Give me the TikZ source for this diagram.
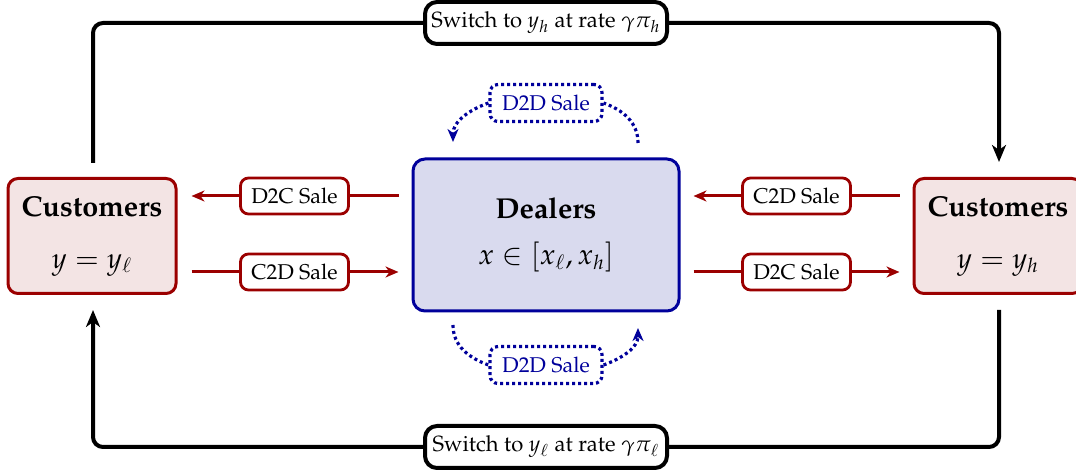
\documentclass[tikz,border=0pt]{standalone}
\usepackage[T1]{fontenc}
\usepackage{mathpazo}
\usetikzlibrary{arrows.meta}
\definecolor{dred}{RGB}{155,0,0}
\definecolor{dblue}{RGB}{0,0,155}
\definecolor{pinkfill}{RGB}{243,228,228}
\definecolor{bluefill}{RGB}{217,218,238}
\begin{document}
\begin{tikzpicture}[x=0.5pt,y=0.5pt,
  custbox/.style={draw=dred, fill=pinkfill, line width=1.5pt, rounded corners=5pt,
    minimum width=84pt, minimum height=57.5pt, align=center, inner sep=0pt,
    font=\fontsize{14.4}{17}\selectfont},
  dealbox/.style={draw=dblue, fill=bluefill, line width=1.5pt, rounded corners=6pt,
    minimum width=133pt, minimum height=76pt, align=center, inner sep=0pt,
    font=\fontsize{14.4}{17}\selectfont},
  salelbl/.style={draw=dred, fill=white, line width=1.4pt, rounded corners=4pt,
    minimum width=54pt, minimum height=18pt, inner sep=1pt,
    font=\fontsize{10.7}{12}\selectfont},
  redarrow/.style={draw=dred, line width=1.5pt, -{Stealth[length=6.5pt,width=5.5pt,inset=2pt]}},
  looparrow/.style={draw=black, line width=2pt, rounded corners=5pt,
    -{Stealth[length=8.5pt,width=7pt,inset=2.5pt]}},
  switchlbl/.style={draw=black, fill=white, line width=2pt, rounded corners=6pt,
    minimum width=121pt, minimum height=21pt, inner sep=1pt,
    font=\fontsize{11}{13}\selectfont},
  dotline/.style={draw=dblue, line width=1.6pt, dash pattern=on 1.5pt off 1.5pt},
  dottip/.style={-{Stealth[length=6.5pt,width=5.5pt,inset=2pt]}},
  d2dlbl/.style={draw=dblue, fill=white, line width=1.6pt, dash pattern=on 1.5pt off 1.5pt,
    rounded corners=4pt, minimum width=56pt, minimum height=18.5pt, inner sep=1pt,
    text=dblue, font=\fontsize{10.7}{12}\selectfont},
]
\useasboundingbox (0,0) rectangle (1076,471);

\node[custbox] (custL) at (92,235) {\textbf{Customers}\\[9pt]$y=y_\ell$};
\node[custbox] (custR) at (998,235) {\textbf{Customers}\\[9pt]$y=y_h$};
\node[dealbox] (dealers) at (546,236) {\textbf{Dealers}\\[6pt]$x\in[x_\ell,x_h]$};

\coordinate (rowA) at (0,275);
\coordinate (rowB) at (0,199);
\coordinate (topline) at (0,448);
\coordinate (botline) at (0,24);

% left side
\draw[redarrow, shorten <=6.5pt, shorten >=7pt] (dealers.west |- rowA) -- (custL.east |- rowA)
  node[salelbl, midway] {D2C Sale};
\draw[redarrow, shorten <=7pt, shorten >=6.5pt] (custL.east |- rowB) -- (dealers.west |- rowB)
  node[salelbl, midway] {C2D Sale};
% right side
\draw[redarrow, shorten <=6.5pt, shorten >=6.5pt] (custR.west |- rowA) -- (dealers.east |- rowA)
  node[salelbl, midway] {C2D Sale};
\draw[redarrow, shorten <=6.5pt, shorten >=6.5pt] (dealers.east |- rowB) -- (custR.west |- rowB)
  node[salelbl, midway] {D2C Sale};

% loops
\draw[looparrow, shorten <=7pt, shorten >=7.5pt]
  ([xshift=0.5pt]custL.north) -- ([xshift=0.5pt]custL.north |- topline)
  -- node[switchlbl] {Switch to $y_h$ at rate $\gamma\pi_h$} ([xshift=0.5pt]custR.north |- topline)
  -- ([xshift=0.5pt]custR.north);
\draw[looparrow, shorten <=7.5pt, shorten >=7.5pt]
  ([xshift=0.5pt]custR.south) -- ([xshift=0.5pt]custR.south |- botline)
  -- node[switchlbl] {Switch to $y_\ell$ at rate $\gamma\pi_\ell$} ([xshift=0.5pt]custL.south |- botline)
  -- ([xshift=0.5pt]custL.south);

% D2D loops
\node[d2dlbl] (d2dT) at (546,368) {D2D Sale};
\node[d2dlbl] (d2dB) at (546,106) {D2D Sale};
\coordinate (tl) at (453,329);
\coordinate (tr) at (638,328);
\coordinate (bl) at (453,146);
\coordinate (br) at (638,143);
\draw[dotline] (tr) to[out=90,in=-20] (d2dT.east);
\draw[dotline, dottip] (d2dT.west) to[out=200,in=90] (tl);
\draw[dotline] (bl) to[out=-90,in=160] (d2dB.west);
\draw[dotline, dottip] (d2dB.east) to[out=20,in=-90] (br);
\end{tikzpicture}
\end{document}
